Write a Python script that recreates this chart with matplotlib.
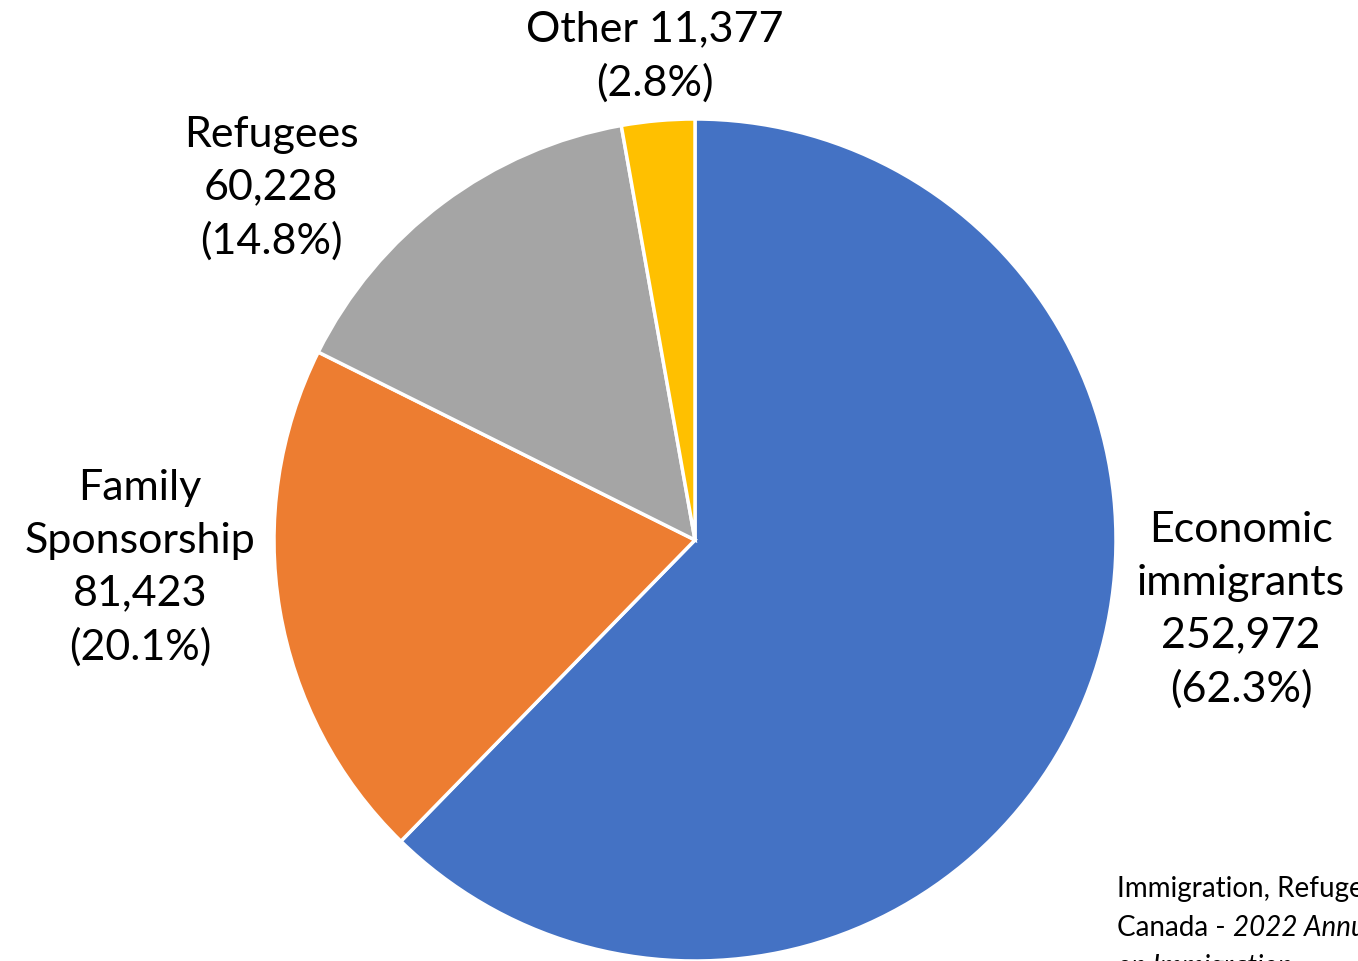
import numpy as np
import matplotlib
matplotlib.use('Agg')
import matplotlib.pyplot as plt

categories = ['Economic\nimmigrants', 'Family\nSponsorship', 'Refugees', 'Other']
values = [252972, 81423, 60228, 11377]
percents = [62.3, 20.1, 14.8, 2.8]
colors = ['#4472C4', '#ED7D31', '#A5A5A5', '#FFC000']

# label centres (pie radius = 1)
label_pos = [(1.297, -0.164), (-1.318, -0.064), (-1.007, 0.838), (-0.095, 1.15)]

plt.rcParams['font.family'] = ['Lato', 'DejaVu Sans']

W, H = 1358, 962
fig = plt.figure(figsize=(W / 100, H / 100), dpi=100)
cx, cy, r = 695, 541, 421
ax = fig.add_axes([(cx - r) / W, (H - cy - r) / H, 2 * r / W, 2 * r / H])

ax.pie(values, colors=colors, startangle=90, counterclock=False,
       wedgeprops=dict(edgecolor='white', linewidth=2.5))
ax.set_xlim(-1, 1)
ax.set_ylim(-1, 1)
ax.set_aspect('equal')
ax.axis('off')

for name, v, p, (x, y) in zip(categories, values, percents, label_pos):
    if name == 'Other':
        txt = f'{name} {v:,}\n({p}%)'
    else:
        txt = f'{name}\n{v:,}\n({p}%)'
    ax.text(x, y, txt, ha='center', va='center', fontsize=31,
            linespacing=1.47, clip_on=False)

# source note, runs off the right edge like the original
fs = 20
fig.text(1117 / W, 1 - 889 / H, 'Immigration, Refugees and Citizenship',
         fontsize=fs, va='center')
t = fig.text(1117 / W, 1 - 928 / H, 'Canada - ', fontsize=fs, va='center')
fig.canvas.draw()
bb = t.get_window_extent()
fig.text(bb.x1 / W, 1 - 928 / H, '2022 Annual Report to Parliament',
         fontsize=fs, va='center', style='italic')
fig.text(1117 / W, 1 - 967 / H, 'on Immigration', fontsize=fs,
         va='center', style='italic')

fig.savefig('out.png', dpi=100)
